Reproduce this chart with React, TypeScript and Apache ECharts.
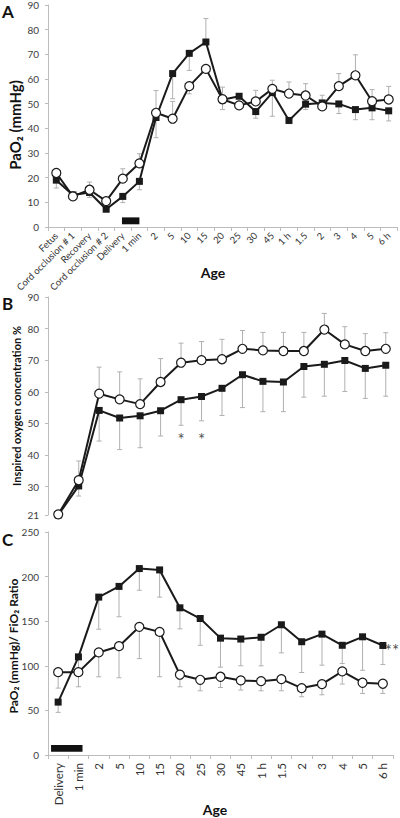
import React, { useEffect, useRef } from "react";
import * as echarts from "echarts";

// ---------- Data ----------
const catsA = ["Fetus", "Cord occlusion # 1", "Recovery", "Cord occlusion # 2", "Delivery", "1 min", "2", "5", "10", "15", "20", "25", "30", "45", "1 h", "1.5", "2", "3", "4", "5", "6 h"];
const catsBC = ["Delivery", "1 min", "2", "5", "10", "15", "20", "25", "30", "45", "1 h", "1.5", "2", "3", "4", "5", "6 h"];

const sqA = [19.0, 13.0, 14.0, 7.2, 12.4, 18.5, 44.4, 62.2, 70.4, 75.0, 51.6, 53.0, 46.8, 54.5, 43.2, 49.8, 50.3, 49.9, 47.6, 48.3, 47.1];
const ciA = [21.9, 12.4, 15.1, 10.5, 19.6, 25.8, 46.3, 43.9, 57.1, 64.1, 51.8, 49.3, 50.9, 56.0, 54.1, 53.3, 48.9, 57.1, 61.5, 51.0, 51.7];
const errSqA: (number | null)[] = [15.8, null, 12.0, null, 9.9, 15.1, 36.2, 52.0, 63.5, 84.5, 47.6, null, 44.1, 44.9, 41.9, 47.6, 48.6, 46.0, 43.5, 43.5, 43.0];
const errCiA: (number | null)[] = [null, 10.8, 18.2, null, 23.6, 29.7, 55.3, 50.9, 54.0, null, 56.7, null, 55.4, 59.5, 58.8, 58.1, 53.4, 62.2, 69.8, 55.7, 57.0];

const ciB = [21.2, 32.0, 59.4, 57.6, 56.1, 63.1, 69.2, 70.0, 70.3, 73.6, 73.1, 72.9, 72.9, 79.7, 75.0, 72.9, 73.6];
const sqB = [21.0, 30.2, 54.1, 51.7, 52.4, 54.0, 57.5, 58.5, 61.1, 65.4, 63.3, 63.1, 68.0, 68.7, 69.9, 67.4, 68.4];
const errCiB: (number | null)[] = [null, 38.1, 67.8, 66.3, 64.1, 70.5, 75.4, 75.9, 76.6, 79.4, 78.8, 78.8, 78.8, 84.8, 80.6, 78.4, 78.7];
const errSqB: (number | null)[] = [null, 27.0, 44.4, 41.7, 42.3, 46.0, 49.4, 50.8, 52.5, 55.0, 53.7, 53.7, 58.3, 58.6, 60.1, 57.9, 58.6];

const sqC = [59.3, 110, 177, 189, 209, 207.5, 165, 153, 131, 130, 132, 146, 127, 135.5, 123, 132.5, 122.8];
const ciC = [92.9, 92.9, 115, 122, 143.7, 138, 90, 84.3, 87.7, 83.6, 82.8, 85, 75, 79.5, 93.7, 81, 79.9];
const errSqC: (number | null)[] = [47.8, 88, 141, 155, 184.7, 177, 141.4, 123, 98.5, 100, 100, 114.5, 92.5, 100.7, 102.6, 95, 101.5];
const errCiC: (number | null)[] = [75, 76.5, 87.7, 86.6, 108, 87.7, 76.5, 72, 75.7, 72.8, 72, 72, 65.3, 67.5, 79.5, 69, 69];

const yTicksA = [0, 10, 20, 30, 40, 50, 60, 70, 80, 90];
const yTicksB = [21, 30, 40, 50, 60, 70, 80, 90];
const yTicksC = [0, 50, 100, 150, 200, 250];

// delivery bar: [category index, y low, start offset (bands), end offset (bands), y high]
const deliveryBarA = [4, 1.1, -0.05, 1.0, 3.9];
const deliveryBarC = [0, 3.7, -0.35, 1.2, 11.2];

// significance marks: [category index, value]
const starsB = [[6, 46.4], [7, 46.4]];
const starsC = [[16, 122.8]];

// ---------- Chart ----------
const FONT = "Lato, 'Open Sans', sans-serif";
const AXIS_GRAY = "#bdbdbd";
const ERR_GRAY = "#b0b0b0";
const LINE = "#1a1a1a";

function errData(vals: number[], errs: (number | null)[]) {
  const out: number[][] = [];
  vals.forEach((v, i) => {
    const e = errs[i];
    if (e != null) out.push([i, v, e]);
  });
  return out;
}

function errSeries(idx: number, vals: number[], errs: (number | null)[]) {
  return {
    type: "custom",
    xAxisIndex: idx,
    yAxisIndex: idx,
    z: 1,
    silent: true,
    encode: { x: 0, y: [1, 2] },
    data: errData(vals, errs),
    renderItem: (params: any, api: any) => {
      const x = api.value(0);
      const p1 = api.coord([x, api.value(1)]);
      const p2 = api.coord([x, api.value(2)]);
      return {
        type: "group",
        children: [
          { type: "line", shape: { x1: p1[0], y1: p1[1], x2: p2[0], y2: p2[1] }, style: { stroke: ERR_GRAY, lineWidth: 1 } },
          { type: "line", shape: { x1: p2[0] - 2.5, y1: p2[1], x2: p2[0] + 2.5, y2: p2[1] }, style: { stroke: ERR_GRAY, lineWidth: 1 } },
        ],
      };
    },
  };
}

function barSeries(idx: number, bar: number[]) {
  return {
    type: "custom",
    xAxisIndex: idx,
    yAxisIndex: idx,
    z: 3,
    silent: true,
    encode: { x: 0, y: [1, 4] },
    data: [bar],
    renderItem: (params: any, api: any) => {
      const c = api.value(0);
      const lo = api.coord([c, api.value(1)]);
      const hi = api.coord([c, api.value(4)]);
      const band = api.size([1, 0])[0];
      const x0 = lo[0] + api.value(2) * band;
      const x1 = lo[0] + api.value(3) * band;
      return { type: "rect", shape: { x: x0, y: hi[1], width: x1 - x0, height: lo[1] - hi[1] }, style: { fill: "#111" } };
    },
  };
}

function lineSeries(idx: number, data: number[], kind: "sq" | "ci") {
  return {
    type: "line",
    xAxisIndex: idx,
    yAxisIndex: idx,
    data,
    z: kind === "ci" ? 5 : 4,
    symbol: kind === "sq" ? "rect" : "circle",
    symbolSize: kind === "sq" ? 7 : 9,
    showSymbol: true,
    lineStyle: { color: LINE, width: 2 },
    itemStyle: kind === "sq" ? { color: LINE } : { color: "#fff", borderColor: LINE, borderWidth: 1.2 },
    clip: false,
  };
}

function starSeries(idx: number, data: number[][], text: string, position: string, offset: number[]) {
  return {
    type: "scatter",
    xAxisIndex: idx,
    yAxisIndex: idx,
    z: 6,
    silent: true,
    symbolSize: 0,
    itemStyle: { color: "#222" },
    data,
    label: { show: true, formatter: text, position, offset, fontSize: 17, color: "#222", fontFamily: FONT },
  };
}

function yAxis(idx: number, min: number, max: number, ticks: number[]) {
  return {
    type: "value",
    gridIndex: idx,
    min,
    max,
    axisLine: { show: true, lineStyle: { color: AXIS_GRAY } },
    axisTick: { show: true, length: 3, lineStyle: { color: AXIS_GRAY }, customValues: ticks },
    axisLabel: { color: "#404040", fontSize: 10, fontFamily: FONT, margin: 9, customValues: ticks },
    splitLine: { show: false },
  };
}

export default function App() {
  const ref = useRef<HTMLDivElement>(null);
  useEffect(() => {
    if (!ref.current) return;
    const chart = echarts.init(ref.current, undefined, { renderer: "svg" });
    const option: any = {
      animation: false,
      textStyle: { fontFamily: FONT },
      grid: [
        { left: 48, right: 3, top: 4, height: 223 },
        { left: 48, right: 4, top: 297, height: 218 },
        { left: 48, right: 7, top: 532, height: 223 },
      ],
      xAxis: [
        {
          type: "category",
          gridIndex: 0,
          data: catsA,
          boundaryGap: true,
          axisLine: { show: true, lineStyle: { color: AXIS_GRAY } },
          axisTick: { show: true, length: 4, lineStyle: { color: AXIS_GRAY } },
          axisLabel: { rotate: 45, interval: 0, fontSize: 9.5, color: "#333", fontFamily: FONT, margin: 7 },
        },
        {
          type: "category",
          gridIndex: 1,
          data: catsBC,
          boundaryGap: true,
          axisLine: { show: false },
          axisTick: { show: false },
          axisLabel: { show: false },
        },
        {
          type: "category",
          gridIndex: 2,
          data: catsBC,
          boundaryGap: true,
          axisLine: { show: true, lineStyle: { color: AXIS_GRAY } },
          axisTick: { show: true, length: 4, lineStyle: { color: AXIS_GRAY } },
          axisLabel: { rotate: 90, interval: 0, fontSize: 11.5, color: "#333", fontFamily: FONT, margin: 8 },
        },
      ],
      yAxis: [
        yAxis(0, 0, 90, yTicksA),
        yAxis(1, 21, 90, yTicksB),
        yAxis(2, 0, 250, yTicksC),
      ],
      series: [
        errSeries(0, sqA, errSqA),
        errSeries(0, ciA, errCiA),
        lineSeries(0, sqA, "sq"),
        lineSeries(0, ciA, "ci"),
        barSeries(0, deliveryBarA),
        errSeries(1, sqB, errSqB),
        errSeries(1, ciB, errCiB),
        lineSeries(1, sqB, "sq"),
        lineSeries(1, ciB, "ci"),
        starSeries(1, starsB, "*", "inside", [0, 5]),
        errSeries(2, sqC, errSqC),
        errSeries(2, ciC, errCiC),
        lineSeries(2, sqC, "sq"),
        lineSeries(2, ciC, "ci"),
        barSeries(2, deliveryBarC),
        starSeries(2, starsC, "**", "right", [-3, 5]),
      ],
      graphic: [
        { type: "text", left: 2, top: 3, style: { text: "A", font: `bold 17px ${FONT}`, fill: "#111" } },
        { type: "text", left: 2, top: 295, style: { text: "B", font: `bold 17px ${FONT}`, fill: "#111" } },
        { type: "text", left: 2, top: 531, style: { text: "C", font: `bold 17px ${FONT}`, fill: "#111" } },
        { type: "text", x: 15, y: 125, rotation: Math.PI / 2, style: { text: "PaO₂ (mmHg)", font: `bold 15px ${FONT}`, fill: "#111", align: "center", verticalAlign: "middle" } },
        { type: "text", x: 16, y: 406, rotation: Math.PI / 2, style: { text: "Inspired oxygen concentration %", font: `bold 11px ${FONT}`, fill: "#111", align: "center", verticalAlign: "middle" } },
        { type: "text", x: 13, y: 646, rotation: Math.PI / 2, style: { text: "PaO₂ (mmHg)/ FiO₂ Ratio", font: `bold 12px ${FONT}`, fill: "#111", align: "center", verticalAlign: "middle" } },
        { type: "text", x: 213, y: 272, style: { text: "Age", font: `bold 14px ${FONT}`, fill: "#111", align: "center", verticalAlign: "middle" } },
        { type: "text", x: 215, y: 809, style: { text: "Age", font: `bold 14px ${FONT}`, fill: "#111", align: "center", verticalAlign: "middle" } },
      ],
    };
    chart.setOption(option);
    return () => chart.dispose();
  }, []);
  return <div ref={ref} style={{ position: "absolute", left: 0, top: 0, width: 400, height: 818 }} />;
}
